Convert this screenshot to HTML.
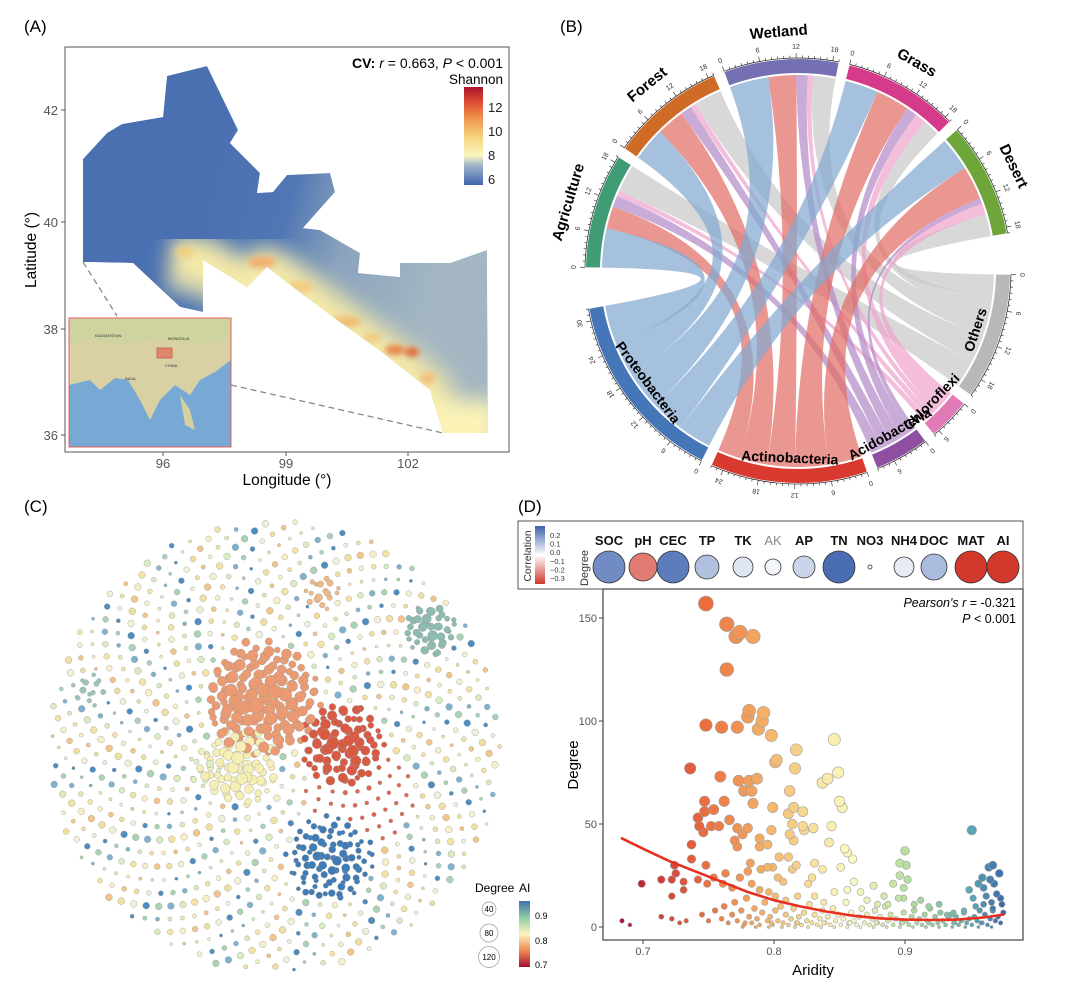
<!DOCTYPE html>
<html><head><meta charset="utf-8">
<style>
html,body{margin:0;padding:0;background:#fff;}
svg{display:block;font-family:"Liberation Sans",Arial,sans-serif;}
</style></head>
<body>
<svg id="fig" width="1080" height="987" viewBox="0 0 1080 987" xmlns="http://www.w3.org/2000/svg">
<defs>
  <linearGradient id="mapGrad" gradientUnits="userSpaceOnUse" x1="200" y1="200" x2="440" y2="260">
    <stop offset="0" stop-color="#4a70b2"/>
    <stop offset="0.35" stop-color="#5076b3"/>
    <stop offset="0.6" stop-color="#8aa3bd"/>
    <stop offset="1" stop-color="#a3b6c2"/>
  </linearGradient>
  <linearGradient id="shanBar" x1="0" y1="1" x2="0" y2="0">
    <stop offset="0" stop-color="#3f63ad"/>
    <stop offset="0.2" stop-color="#9fb5c8"/>
    <stop offset="0.3" stop-color="#fbf6c0"/>
    <stop offset="0.5" stop-color="#f6d27a"/>
    <stop offset="0.7" stop-color="#ee8d4a"/>
    <stop offset="0.85" stop-color="#dd4a32"/>
    <stop offset="1" stop-color="#a8142a"/>
  </linearGradient>
  <linearGradient id="aiBar" x1="0" y1="1" x2="0" y2="0">
    <stop offset="0" stop-color="#a50f35"/>
    <stop offset="0.25" stop-color="#f08a50"/>
    <stop offset="0.5" stop-color="#fbf5be"/>
    <stop offset="0.75" stop-color="#8fcca4"/>
    <stop offset="1" stop-color="#3f6fb0"/>
  </linearGradient>
  <linearGradient id="corBar" x1="0" y1="1" x2="0" y2="0">
    <stop offset="0" stop-color="#d2392b"/>
    <stop offset="0.5" stop-color="#ffffff"/>
    <stop offset="1" stop-color="#3d62ad"/>
  </linearGradient>
  <filter id="blur3"><feGaussianBlur stdDeviation="3"/></filter>
  <filter id="blur10"><feGaussianBlur stdDeviation="10"/></filter>
  <clipPath id="mapClip"><path id="mapShapeClip" d=""/></clipPath>
</defs>

<text x="24" y="32" font-size="17">(A)</text>
<text x="560" y="32" font-size="17">(B)</text>
<text x="24" y="512" font-size="17">(C)</text>
<text x="518" y="512" font-size="17">(D)</text>

<g id="panelA">
  <rect x="65" y="47" width="444" height="405" fill="#fff" stroke="#555" stroke-width="1"/>
  <g clip-path="url(#mapClip)">
    <path id="mapShape" d="" fill="url(#mapGrad)"/>
    <g filter="url(#blur10)">
      <path d="M170,262 L203,266 L247,292 L267,275 L293,292 L333,322 L383,358 L425,392 L440,440 L495,440" fill="none" stroke="#cfd2b0" stroke-width="60" stroke-linejoin="round"/>
      <path d="M170,258 L203,262 L247,290 L267,270 L293,290 L333,320 L383,356 L428,392 L440,440 L495,440" fill="none" stroke="#f7eaa6" stroke-width="32" stroke-linejoin="round"/>
      <rect x="430" y="400" width="70" height="45" fill="#fbf3b6"/>
    </g>
    <g filter="url(#blur3)">
      <ellipse cx="185" cy="252" rx="10" ry="5" fill="#f0cf80"/>
      <ellipse cx="262" cy="262" rx="14" ry="6" fill="#eeb070"/>
      <ellipse cx="300" cy="287" rx="14" ry="6" fill="#f2cc80"/>
      <ellipse cx="345" cy="322" rx="16" ry="6" fill="#efbf78"/>
      <ellipse cx="395" cy="350" rx="10" ry="5" fill="#e8874a"/>
      <ellipse cx="412" cy="352" rx="7" ry="5" fill="#e36a3c"/>
      <ellipse cx="428" cy="378" rx="8" ry="6" fill="#f0c27c"/>
      <ellipse cx="372" cy="338" rx="9" ry="4" fill="#f1c57a"/>
    </g>
  </g>
  <line x1="83" y1="262" x2="117" y2="316" stroke="#888" stroke-width="1.3" stroke-dasharray="6,4"/>
  <line x1="231" y1="385" x2="443" y2="433" stroke="#888" stroke-width="1.3" stroke-dasharray="6,4"/>
  <g>
    <rect x="69" y="318" width="162" height="129" fill="#78a8d4"/>
    <path d="M69,318 H231 V360 L215,372 L200,380 L190,395 L175,385 L160,400 L150,420 L140,400 L128,380 L115,378 L100,390 L90,380 L69,385 Z" fill="#d9d1a3"/>
    <path d="M69,318 H231 V340 L200,345 L160,338 L120,345 L90,340 L69,345 Z" fill="#cfd3a0"/>
    <path d="M180,395 L190,410 L195,430 L185,425 Z" fill="#d6cf9f"/>
    <rect x="157" y="348" width="15" height="10" fill="#e0866c" stroke="#c55" stroke-width="0.8"/>
    <text x="95" y="337" font-size="4" fill="#333">KAZAKHSTAN</text>
    <text x="168" y="340" font-size="4" fill="#333">MONGOLIA</text>
    <text x="165" y="367" font-size="4" fill="#333">CHINA</text>
    <text x="125" y="380" font-size="4" fill="#333">INDIA</text>
    <rect x="69" y="318" width="162" height="129" fill="none" stroke="#e06060" stroke-width="1"/>
  </g>
  <text x="503" y="68" font-size="14" text-anchor="end"><tspan font-weight="bold">CV:</tspan> <tspan font-style="italic">r</tspan> = 0.663, <tspan font-style="italic">P</tspan> &lt; 0.001</text>
  <text x="503" y="84" font-size="13.5" text-anchor="end">Shannon</text>
  <rect x="464" y="87" width="19" height="98" fill="url(#shanBar)"/>
  <g font-size="13" fill="#222">
    <text x="488" y="112">12</text><text x="488" y="136">10</text><text x="488" y="160">8</text><text x="488" y="184">6</text>
  </g>
  <g font-size="13" fill="#555" text-anchor="end">
    <text x="58" y="115">42</text><text x="58" y="227">40</text><text x="58" y="334">38</text><text x="58" y="440">36</text>
  </g>
  <g stroke="#555"><line x1="61" y1="110" x2="65" y2="110"/><line x1="61" y1="222" x2="65" y2="222"/><line x1="61" y1="329" x2="65" y2="329"/><line x1="61" y1="435" x2="65" y2="435"/>
  <line x1="163" y1="452" x2="163" y2="456"/><line x1="286" y1="452" x2="286" y2="456"/><line x1="408" y1="452" x2="408" y2="456"/></g>
  <g font-size="13" fill="#555" text-anchor="middle">
    <text x="163" y="468">96</text><text x="286" y="468">99</text><text x="408" y="468">102</text>
  </g>
  <text x="287" y="485" font-size="15.5" text-anchor="middle">Longitude (°)</text>
  <text transform="translate(36,250) rotate(-90)" font-size="15.5" text-anchor="middle">Latitude (°)</text>
</g>

<g id="panelB"></g>
<g id="panelC"></g>
<g id="panelD"></g>
</svg>

<script>
const NS="http://www.w3.org/2000/svg";
function mk(parent,tag,attrs,txt){const e=document.createElementNS(NS,tag);for(const k in attrs)e.setAttribute(k,attrs[k]);if(txt!==undefined)e.textContent=txt;parent.appendChild(e);return e;}

const mapOutline=[[83,159],[107,133],[122,124],[163,117],[167,76],[207,66],[238,130],[230,143],[260,173],[257,193],[273,192],[287,175],[330,173],[335,192],[303,228],[320,230],[360,253],[358,273],[400,277],[400,263],[450,263],[487,250],[488,433],[443,433],[430,390],[383,353],[333,317],[293,287],[267,267],[247,287],[203,260],[203,312],[180,307],[133,263],[83,262]];
const dMap="M"+mapOutline.map(p=>p.join(",")).join(" L")+" Z";
document.getElementById('mapShape').setAttribute('d',dMap);
document.getElementById('mapShapeClip').setAttribute('d',dMap);

const habitats=["Agriculture","Forest","Wetland","Grass","Desert"];
const habitatColors=["#3f9c74","#cf6a27","#7570b3","#d63a8a","#6fa63a"];
const phyla=["Others","Chloroflexi","Acidobacteria","Actinobacteria","Proteobacteria"];
const phylaColors=["#b8b8b8","#e07bb5","#8e4fa0","#d93a2f","#4577b8"];
const chordColors=["#c9c9c9","#f0a3cc","#b38ac6","#e26e66","#83a9d0"];
const flowAgriculture=[7,4,2,1,5];
const flowForest=[6,5,2,1,5];
const flowWetland=[7,5,2,1,4];
const flowGrass=[6,6,2,2,3];
const flowDesert=[6,6,1,2,4];
(function(){
  const g=document.getElementById('panelB');
  const cx=798,cy=271,rC=196,rIn=198,rOut=212,k=1.65,gap=3;
  const flows=[flowAgriculture,flowForest,flowWetland,flowGrass,flowDesert];
  const colOrder=["Proteobacteria","Actinobacteria","Acidobacteria","Chloroflexi","Others"];
  const P=(a,r)=>{const t=a*Math.PI/180;return [cx+r*Math.cos(t),cy+r*Math.sin(t)];};
  const phyTot=phyla.map(p=>{const j=colOrder.indexOf(p);return flows.reduce((s,f)=>s+f[j],0);});
  const habTot=flows.map(f=>f.reduce((a,b)=>a+b,0));
  const phyStart={},habStart=[];
  let a=1;
  phyla.forEach((p,i)=>{phyStart[p]=a;a+=phyTot[i]*k+gap;});
  a=181;
  habitats.forEach((h,i)=>{habStart.push(a);a+=habTot[i]*k+gap;});
  const segs=[];
  habitats.forEach((h,i)=>{let c=habStart[i];colOrder.forEach((p,j)=>{segs.push({i,p,a1:c,a2:c+flows[i][j]*k});c+=flows[i][j]*k;});});
  const phyAng={};
  phyla.forEach(p=>{let c=phyStart[p];for(let i=habitats.length-1;i>=0;i--){const j=colOrder.indexOf(p);phyAng[p+i]=[c,c+flows[i][j]*k];c+=flows[i][j]*k;}});
  const chordG=mk(g,'g',{});
  
  
  const drawOrder=["Others","Chloroflexi","Acidobacteria","Actinobacteria","Proteobacteria"];
  drawOrder.forEach(p=>{segs.filter(s=>s.p===p).forEach(s=>{
    const [b1,b2]=phyAng[p+s.i];
    const A1=P(s.a1,rC),A2=P(s.a2,rC),B1=P(b1,rC),B2=P(b2,rC);
    const la1=(s.a2-s.a1)>180?1:0,lb=(b2-b1)>180?1:0;
    const d=`M${A1} A${rC},${rC} 0 ${la1} 1 ${A2} Q${cx},${cy} ${B1} A${rC},${rC} 0 ${lb} 1 ${B2} Q${cx},${cy} ${A1} Z`;
    const e=mk(chordG,'path',{d,fill:chordColors[phyla.indexOf(p)],'fill-opacity':0.72});
    
    
  });});
  function sector(name,start,tot,color,labelOutside){
    const end=start+tot*k;
    const o1=P(start,rOut),o2=P(end,rOut),i2=P(end,rIn),i1=P(start,rIn);
    const la=(end-start)>180?1:0;
    const e=mk(g,'path',{d:`M${o1} A${rOut},${rOut} 0 ${la} 1 ${o2} L${i2} A${rIn},${rIn} 0 ${la} 0 ${i1} Z`,fill:color});
    
    
    const a1=P(start,rOut+1),a2=P(end,rOut+1);
    mk(g,'path',{d:`M${a1} A${rOut+1},${rOut+1} 0 ${la} 1 ${a2}`,fill:'none',stroke:'#222','stroke-width':0.7});
    for(let v=0;v<=tot;v++){
      const ang=start+v*k,maj=v%6===0;
      const p1=P(ang,rOut+1),p2=P(ang,rOut+(maj?6:3.5));
      mk(g,'line',{x1:p1[0],y1:p1[1],x2:p2[0],y2:p2[1],stroke:'#222','stroke-width':0.6});
      if(maj){const pl=P(ang,rOut+12);mk(g,'text',{x:pl[0],y:pl[1],'font-size':7,'text-anchor':'middle','dominant-baseline':'middle',fill:'#333',transform:`rotate(${ang+90},${pl[0]},${pl[1]})`},String(v));}
    }
    const mid=(start+end)/2;
    if(labelOutside){
      const pl=P(mid,rOut+27);
      const t=mk(g,'text',{x:pl[0],y:pl[1],'font-size':15,'font-weight':'bold','text-anchor':'middle','dominant-baseline':'middle',transform:`rotate(${mid+90},${pl[0]},${pl[1]})`},name);
      
      
    } else {
      const pl=P(mid,rIn-10);
      const t=mk(g,'text',{x:pl[0],y:pl[1],'font-size':14,'font-weight':'bold','text-anchor':'middle','dominant-baseline':'middle',transform:`rotate(${mid-90},${pl[0]},${pl[1]})`},name);
      
      
    }
  }
  phyla.forEach((p,i)=>sector(p,phyStart[p],phyTot[i],phylaColors[i],false));
  habitats.forEach((h,i)=>sector(h,habStart[i],habTot[i],habitatColors[i],true));
})();

const clusterX=[262,340,240,205,330,430,322,90,360];
const clusterY=[700,745,765,770,860,630,592,690,795];
const clusterR=[60,45,42,20,45,28,18,18,55];
const clusterColor=["#eb9a72","#d85a43","#f5efb5","#dfeec0","#3f7cb6","#8dbbb0","#f0b888","#9dc6b6","#e0664e"];
const clusterSize=[7,6,6,4,4.5,5,4,3.5,2.6];
const clusterCount=[70,45,40,8,50,25,10,8,0];
const basePalette=["#f3e4a6","#4f8cc0","#f6efc8","#a9d3b4","#f2c58a","#7fb2cf","#f0e0a0","#d8ecc0","#eef0d8"];
(function(){
  const g=document.getElementById('panelC');
  const cx=275,cy=746,R=226,N=1000;
  const nodes=[];
  for(let i=0;i<N;i++){
    const r=R*Math.sqrt((i+0.5)/N),th=i*2.39996323;
    const x=cx+r*Math.cos(th),y=cy+r*Math.sin(th);
    let col=basePalette[(i*7)%basePalette.length],s=1.6+((i*3)%5)*0.45;
    for(let c=0;c<clusterX.length;c++){const d=Math.hypot(x-clusterX[c],y-clusterY[c]);if(d<clusterR[c]){col=clusterColor[c];s=Math.max(2,clusterSize[c]*(1-0.45*d/clusterR[c])*(0.7+((i*5)%4)*0.12));break;}}
    nodes.push({x,y,col,s});
  }
  for(let c=0;c<clusterX.length;c++){
    for(let i=0;i<clusterCount[c];i++){
      const r=clusterR[c]*0.9*Math.sqrt((i+0.5)/clusterCount[c]),th=i*2.39996323+c;
      nodes.push({x:clusterX[c]+r*Math.cos(th),y:clusterY[c]+r*Math.sin(th),col:clusterColor[c],s:clusterSize[c]*(1-0.4*r/clusterR[c])*(0.75+((i*3)%4)*0.12)});
    }
  }
  nodes.sort((a,b)=>a.s-b.s);
  nodes.forEach(n=>{
    const e=mk(g,'circle',{cx:n.x.toFixed(1),cy:n.y.toFixed(1),r:n.s.toFixed(2),fill:n.col,stroke:'#9a9a9a','stroke-width':0.4});
    
    
  });
  const lg=mk(g,'g',{});
  
  
  mk(lg,'text',{x:475,y:892,'font-size':12},'Degree');
  mk(lg,'text',{x:519,y:892,'font-size':12},'AI');
  [[40,909,7],[80,933,9],[120,957,10.5]].forEach(v=>{mk(lg,'circle',{cx:489,cy:v[1],r:v[2],fill:'#fff',stroke:'#999','stroke-width':0.7});mk(lg,'text',{x:489,y:v[1]+3,'font-size':8,'text-anchor':'middle'},String(v[0]));});
  mk(lg,'rect',{x:519,y:901,width:11,height:66,fill:'url(#aiBar)'});
  [[0.9,916],[0.8,941],[0.7,965]].forEach(v=>mk(lg,'text',{x:535,y:v[1]+3,'font-size':9},String(v[0])));
})();

const aridity=[0.748,0.764,0.771,0.774,0.784,0.764,0.781,0.780,0.792,0.791,0.788,0.748,0.760,0.772,0.798,0.846,0.802,0.801,0.817,0.816,0.736,0.759,0.773,0.781,0.787,0.777,0.783,0.784,0.812,0.837,0.841,0.849,0.850,0.852,0.799,0.815,0.811,0.822,0.822,0.823,0.830,0.844,0.747,0.747,0.754,0.762,0.742,0.743,0.746,0.752,0.758,0.766,0.772,0.780,0.776,0.798,0.814,0.812,0.815,0.951,0.842,0.854,0.856,0.860,0.789,0.789,0.795,0.770,0.772,0.737,0.737,0.724,0.725,0.731,0.731,0.722,0.714,0.722,0.699,0.684,0.690,0.714,0.722,0.728,0.733,0.900,0.896,0.901,0.896,0.902,0.891,0.899,0.967,0.964,0.972,0.959,0.965,0.956,0.968,0.960,0.949,0.973,0.952,0.831,0.837,0.851,0.829,0.826,0.804,0.811,0.817,0.799,0.803,0.807,0.814,0.795,0.790,0.782,0.780,0.774,0.763,0.754,0.749,0.742,0.748,0.761,0.768,0.783,0.789,0.796,0.801,0.809,0.818,0.831,0.838,0.846,0.856,0.861,0.866,0.876,0.871,0.884,0.879,0.887,0.899,0.907,0.912,0.918,0.926,0.932,0.937,0.945,0.954,0.960,0.967,
0.745,0.750,0.755,0.760,0.762,0.765,0.768,0.770,0.772,0.775,0.777,0.779,0.781,0.783,0.785,0.787,0.789,0.791,0.793,0.795,0.797,0.799,0.801,0.803,0.805,0.807,0.809,0.811,0.813,0.815,0.817,0.819,0.821,0.823,0.825,0.827,0.829,0.831,0.833,0.835,0.837,0.839,0.841,0.843,0.845,0.847,0.849,0.851,0.853,0.855,0.857,0.859,0.861,0.863,0.865,0.867,0.869,0.871,0.873,0.875,0.877,0.879,0.881,0.883,0.885,0.887,0.889,0.891,0.893,0.895,0.897,0.899,0.901,0.903,0.905,0.907,0.909,0.911,0.913,0.915,0.917,0.919,0.921,0.923,0.925,0.927,0.929,0.931,0.933,0.935,0.937,0.939,0.941,0.943,0.945,0.947,0.949,0.951,0.953,0.955,0.957,0.959,0.961,0.963,0.965,0.967,0.969,0.971,0.973,0.975,0.974,0.970,0.966,0.962,
0.776,0.786,0.796,0.806,0.816,0.826,0.836,0.846,0.856,0.866,0.876,0.886,0.896,0.906,0.916,0.926,0.936,0.946,0.956,0.966,0.778,0.798,0.818,0.838,0.858,0.878,0.898,0.918,0.938,0.958];
const degree=[157,147,141,143,141,125,105,102,104,100,96,98,97,97,93,91,81,80,86,77,77,73,71,71,72,66,66,60,66,70,72,75,61,58,58,58,55,56,49,47,48,49,61,56,57,61,53,49,46,49,49,52,48,48,45,47,50,45,42,47,41,38,36,33,43,39,40,42,39,40,33,30,26,22,18,23,23,15,21,3,1,5,4,2,3,37,31,30,25,23,21,19,30,29,26,24,23,21,21,19,18,14,14,31,28,29,24,21,34,34,30,29,24,22,28,29,28,31,27,24,26,24,21,23,30,21,19,21,18,17,15,13,15,15,12,17,18,22,17,20,13,15,11,11,14,11,13,10,11,6,7,8,10,11,8,
6,3,8,4,10,2,6,12,3,8,1,14,5,2,9,4,1,7,12,3,5,1,8,3,10,2,6,1,4,9,2,5,1,7,3,11,2,6,1,4,8,2,5,1,9,3,6,1,4,12,2,7,3,1,5,9,2,6,1,4,8,2,5,1,10,3,6,1,4,14,2,7,3,1,5,8,2,4,1,6,3,9,1,5,2,7,3,1,4,6,2,5,1,3,7,2,4,1,5,3,8,2,6,1,4,9,3,5,2,7,11,16,12,15,
0,0,0,0,0,0,0,0,0,0,0,0,0,0,0,0,0,0,0,0,2,2,2,2,2,2,2,2,2,2];
const fitAridity=[0.684,0.70,0.72,0.74,0.76,0.78,0.80,0.82,0.84,0.86,0.88,0.90,0.92,0.94,0.96,0.975];
const fitDegree=[43,38,32,27,22,17,13,10,7.5,5.5,4.2,3.6,3.4,3.6,4.6,6];
const xTicks=[0.7,0.8,0.9];
const yTicks=[0,50,100,150];
const covariates=["SOC","pH","CEC","TP","TK","AK","AP","TN","NO3","NH4","DOC","MAT","AI"];
const covCorrelation=[0.22,-0.2,0.25,0.12,0.05,0.02,0.08,0.28,0.0,0.04,0.13,-0.3,-0.3];
const covDegree=[16,14,16,12,10,8,11,16,2,10,13,16,16];
(function(){
  const g=document.getElementById('panelD');
  const X=a=>643+(a-0.7)*1310, Y=d=>927-d*2.06;
  const stops=[[0.68,[165,15,53]],[0.72,[214,69,61]],[0.75,[236,112,64]],[0.79,[243,173,99]],[0.83,[248,225,154]],[0.86,[251,251,196]],[0.89,[198,230,160]],[0.92,[153,207,160]],[0.95,[90,168,180]],[0.975,[61,104,174]]];
  const colorOf=a=>{if(a<=stops[0][0])return `rgb(${stops[0][1]})`;for(let i=1;i<stops.length;i++){if(a<=stops[i][0]){const t=(a-stops[i-1][0])/(stops[i][0]-stops[i-1][0]);const c=stops[i-1][1].map((v,j)=>Math.round(v+(stops[i][1][j]-v)*t));return `rgb(${c})`;}}return `rgb(${stops[stops.length-1][1]})`;};
  const lb=mk(g,'g',{});
  
  
  mk(lb,'rect',{x:518,y:521,width:505,height:68,fill:'#fff',stroke:'#555','stroke-width':1});
  mk(lb,'text',{transform:'translate(531,556) rotate(-90)','font-size':10.5,'text-anchor':'middle',fill:'#333'},'Correlation');
  mk(lb,'rect',{x:535,y:526,width:10,height:58,fill:'url(#corBar)'});
  ['0.2','0.1','0.0','\u22120.1','\u22120.2','\u22120.3'].forEach((t,i)=>mk(lb,'text',{x:550,y:538+i*8.6,'font-size':7.5,fill:'#333'},t));
  mk(lb,'text',{transform:'translate(588,568) rotate(-90)','font-size':11,'text-anchor':'middle',fill:'#333'},'Degree');
  const covX=[609,643,673,707,743,773,804,839,870,904,934,971,1003];
  covariates.forEach((c,i)=>{
    const t=mk(lb,'text',{x:covX[i],y:545,'font-size':13,'font-weight':c==='AK'?'normal':'bold','text-anchor':'middle',fill:c==='AK'?'#888':'#111'},c);
    
    
    const v=covCorrelation[i];
    const col=v>=0?`rgb(${Math.round(255-(255-61)*v/0.3)},${Math.round(255-(255-98)*v/0.3)},${Math.round(255-(255-173)*v/0.3)})`:`rgb(${Math.round(255-(255-210)*(-v)/0.3)},${Math.round(255-(255-57)*(-v)/0.3)},${Math.round(255-(255-43)*(-v)/0.3)})`;
    const cc=mk(lb,'circle',{cx:covX[i],cy:567,r:covDegree[i],fill:col,stroke:'#333','stroke-width':0.8});
    
    
  });
  mk(g,'rect',{x:603,y:589,width:420,height:351,fill:'#fff',stroke:'#444','stroke-width':1.2});
  const idx=aridity.map((a,i)=>i).sort((p,q)=>degree[p]-degree[q]);
  const pg=mk(g,'g',{});
  
  
  idx.forEach(i=>{
    const e=mk(pg,'circle',{cx:X(aridity[i]).toFixed(1),cy:Y(degree[i]).toFixed(1),r:(1.5+Math.sqrt(degree[i])*0.48).toFixed(2),fill:colorOf(aridity[i]),stroke:'#a0a0a0','stroke-width':0.6});
    
    
  });
  const fl=mk(g,'path',{d:'M'+fitAridity.map((a,i)=>X(a).toFixed(1)+','+Y(fitDegree[i]).toFixed(1)).join(' L'),fill:'none',stroke:'#e8301f','stroke-width':2.6,'stroke-linecap':'round'});
  
  
  yTicks.forEach(t=>{mk(g,'line',{x1:599,y1:Y(t),x2:603,y2:Y(t),stroke:'#444'});mk(g,'text',{x:597,y:Y(t)+4,'font-size':11,'text-anchor':'end',fill:'#555'},String(t));});
  xTicks.forEach(t=>{mk(g,'line',{x1:X(t),y1:940,x2:X(t),y2:944,stroke:'#444'});mk(g,'text',{x:X(t),y:955,'font-size':11,'text-anchor':'middle',fill:'#555'},t.toFixed(1));});
  const xt=mk(g,'text',{x:813,y:975,'font-size':15,'text-anchor':'middle'},'Aridity');
  
  
  const yt=mk(g,'text',{transform:'translate(578,765) rotate(-90)','font-size':15,'text-anchor':'middle'},'Degree');
  
  
  const a1=mk(g,'text',{x:1016,y:607,'font-size':12.5,'text-anchor':'end'});
  
  
  mk(a1,'tspan',{'font-style':'italic'},"Pearson's r");mk(a1,'tspan',{},' = -0.321');
  const a2=mk(g,'text',{x:1016,y:623,'font-size':12.5,'text-anchor':'end'});
  
  
  mk(a2,'tspan',{'font-style':'italic'},'P');mk(a2,'tspan',{},' < 0.001');
})();
</script>
</body></html>
